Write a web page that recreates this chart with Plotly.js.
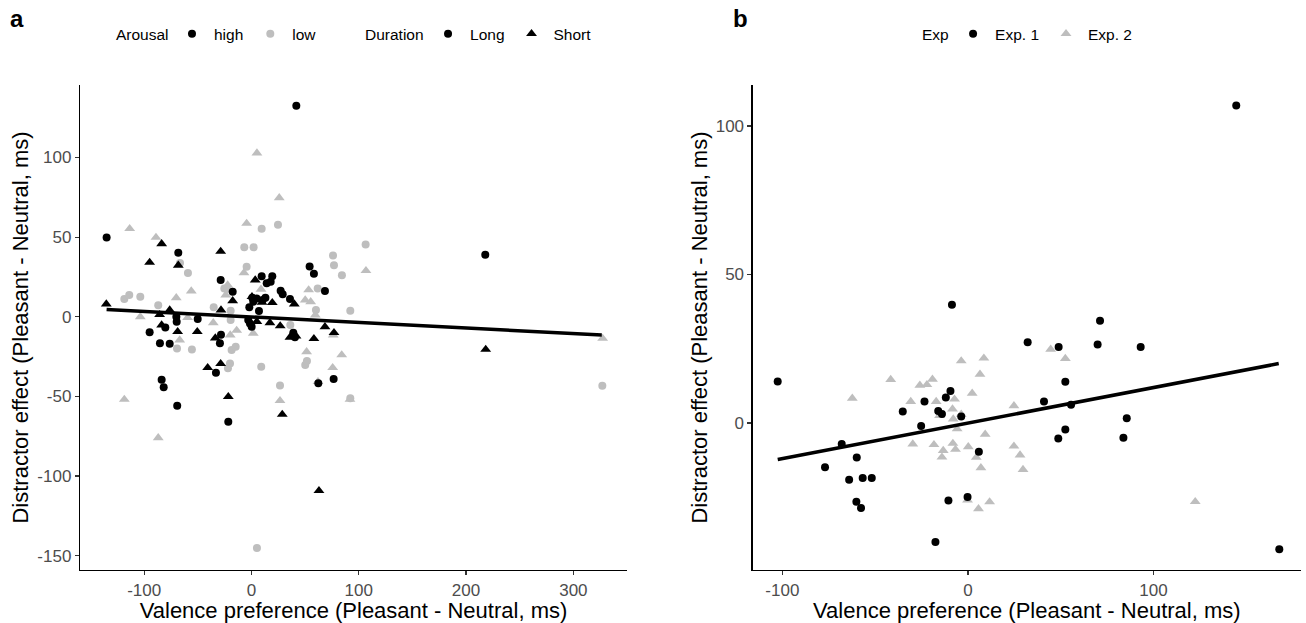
<!DOCTYPE html>
<html>
<head>
<meta charset="utf-8">
<script src="https://cdn.plot.ly/plotly-3.0.1.min.js"></script>
<style>html,body{margin:0;padding:0;background:#fff;}#chart{width:1306px;height:623px;}</style>
</head>
<body>
<div id="chart"></div>
<script>
// ---------- Panel a data ----------
const highLongX = [41.8,-135,-68.2,-28.7,-17.5,9.5,19.4,14.2,17.9,54.2,58.2,68.5,27.2,29.1,35.9,0.8,7,-70,-69.7,-50.1,-94.9,-85.3,-76.2,-80.3,-28.4,-29.4,-33.1,-83.7,-81.8,-69.2,-21.6,-1.4,0.2,1.7,4.8,10.4,39,40.5,62.3,76.6,217.9,-2,-3,13];
const highLongY = [132.5,49.8,40.2,23.0,15.7,25.5,25.5,21.0,22.0,31.6,27.0,16.1,16.3,14.2,11.1,11.9,3.6,0,-3.1,-1.4,-9.8,-16.7,-16.9,-6.7,-11.3,-16.7,-35.1,-39.5,-44.3,-55.9,-65.9,-4.2,-6.3,9.4,11.5,10.5,-10,-12.9,-41.8,-39.1,38.9,6,-2,12];

const highShortX = [-135.3,-83.7,-94.9,-68.2,-28.7,3.5,-17.5,19.4,39.9,-76.2,-85.6,-28.4,9.8,0.5,-83.7,-68.8,-50.5,-33.7,-40.8,-28.7,-21.6,17.2,26.8,35.9,41.5,68.5,76.9,58.2,28.7,62.9,218.3,5];
const highShortY = [8.0,45.8,34.1,32.3,41.0,23.0,10.0,8.8,8.0,4.2,1.3,4.2,9.0,12.6,-5.2,-9.4,-9.4,-13.4,-32,-29.5,-50.2,-3.8,-5.8,-12.9,-12.1,-6.3,-10,-13.8,-61.3,-109.2,-20.5,-3];

const lowLongX = [9.5,24.7,-6.7,2,-4.5,76,76.9,84.3,-59.2,-66.6,-118.5,-113.9,-103.6,-22.8,61.7,92.1,-35.2,-19.4,-86.9,60.1,-19.4,106.4,327,92.1,-69.4,-55.5,-18.5,-14.7,-20,-21.9,9.1,50.1,51.7,26.6,36.2,-25.3,5.1];
const lowLongY = [55.3,57.8,43.6,43.6,31.4,38.5,32.3,26.0,27.4,33.7,11.1,13.6,12.6,17.4,17.8,3.8,5.9,3.8,7.2,4.2,-2.1,45.4,-43.3,-51.2,-19.9,-20.5,-20.9,-18.8,-29.3,-32.4,-31.4,-30.3,-27.8,-43.1,-5.2,17.8,-145.2];

const lowShortX = [5.1,25.9,-113.5,-89,-4.5,-7,-56.1,-70.1,-22.2,-24,53.3,50.1,55.2,-103.6,-59.5,-35.6,8.9,-118.5,-86.9,-66.9,-13.8,-19.8,1.7,26.6,51.4,84.1,75.7,76.2,62,91.8,59.5,106.7,327.3];
const lowShortY = [102.8,74.7,55.3,49.8,58.6,27.6,16.1,11.9,19.9,13.6,16.8,10.5,9.4,0,-0.6,-3.8,17.2,-51.9,-76,-14.6,-8.6,-11.5,-10.4,-52.7,-22,-24,-32,-11.5,-40.8,-51.9,1.1,28.9,-13.6];

const fitAX = [-135, 326.5];
const fitAY = [4.6, -11.5];

// ---------- Panel b data ----------
const exp1X = [-102.5,-8.6,32.2,-68,-77,-59.9,-64,-56.7,-51.8,-60.1,-57.6,-35.1,-23.4,-25.2,-11.9,-9.4,-16,-14,-3.6,5.9,-10.5,-0.2,-17.5,144.6,48.9,71.2,69.9,93.1,52.5,41,55.6,85.6,52.5,48.7,83.8,167.8];
const exp1Y = [14.0,39.8,27.2,-7.1,-14.9,-11.6,-19.1,-18.5,-18.5,-26.5,-28.6,3.9,7.2,-1.0,8.6,10.8,4.0,3.0,2.2,-9.7,-26.1,-24.9,-40.1,106.9,25.6,34.4,26.4,25.6,13.9,7.2,6.1,1.6,-2.2,-5.2,-5.0,-42.5];

const exp2X = [-62.3,-41.6,-30.8,-25.9,-22.1,-19.1,-17.1,-15.3,-8.3,-7.2,-7.9,-5.8,-3.6,-3.6,8.6,6.5,2.3,9.3,0.2,4.5,7.0,-29.7,-18.3,-13.3,-14,-8.1,-6.7,-0.2,5.7,11.7,24.8,24.8,28.1,29.7,44.6,52.5,122.5];
const exp2Y = [8.3,14.6,7.2,12.7,12.9,14.7,7.2,2.5,4.7,8.0,1.3,-2.0,2.9,20.9,21.8,16.4,10.0,-3.8,-8.0,-11.6,-15.1,-7.1,-7.3,-9.3,-11.5,-6.9,-8.9,-26.0,-28.9,-26.6,5.8,-7.8,-10.8,-15.7,24.8,21.7,-26.5];

const fitBX = [-102.5, 167.5];
const fitBY = [-12.3, 20.0];

// ---------- Tick labels ----------
const aXTicks = [-100, 0, 100, 200, 300];
const aXTickText = ['-100', '0', '100', '200', '300'];
const aYTicks = [-150, -100, -50, 0, 50, 100];
const aYTickText = ['-150', '-100', '-50', '0', '50', '100'];
const bXTicks = [-100, 0, 100];
const bXTickText = ['-100', '0', '100'];
const bYTicks = [0, 50, 100];
const bYTickText = ['0', '50', '100'];

const xTitle = 'Valence preference (Pleasant - Neutral, ms)';
const yTitle = 'Distractor effect (Pleasant - Neutral, ms)';
const legendTitles = ['Arousal', 'Duration', 'Exp'];

const BLACK = '#000000';
const GREY = '#BEBEBE';
const FONT = 'Liberation Sans, Arial, sans-serif';

function pts(x, y, color, symbol, size, xa, ya) {
  return {x: x, y: y, type: 'scatter', mode: 'markers', xaxis: xa, yaxis: ya,
    marker: {color: color, symbol: symbol, size: size, line: {width: 0}},
    showlegend: false, hoverinfo: 'x+y'};
}
function legendOnly(name, color, symbol, size, legend) {
  return {x: [null], y: [null], type: 'scatter', mode: 'markers', name: name,
    marker: {color: color, symbol: symbol, size: size}, legend: legend, showlegend: true,
    xaxis: 'x', yaxis: 'y'};
}

const traces = [
  pts(lowLongX, lowLongY, GREY, 'circle', 8, 'x', 'y'),
  pts(lowShortX, lowShortY, GREY, 'triangle-up', 9.5, 'x', 'y'),
  pts(highLongX, highLongY, BLACK, 'circle', 8, 'x', 'y'),
  pts(highShortX, highShortY, BLACK, 'triangle-up', 9.5, 'x', 'y'),
  {x: fitAX, y: fitAY, type: 'scatter', mode: 'lines', xaxis: 'x', yaxis: 'y',
    line: {color: BLACK, width: 3.5}, showlegend: false},
  legendOnly('high', BLACK, 'circle', 8, 'legend'),
  legendOnly('low', GREY, 'circle', 8, 'legend'),
  legendOnly('Long', BLACK, 'circle', 8, 'legend2'),
  legendOnly('Short', BLACK, 'triangle-up', 9.5, 'legend2'),
  {x: exp2X, y: exp2Y, type: 'scatter', mode: 'markers', xaxis: 'x2', yaxis: 'y2', name: 'Exp. 2',
    marker: {color: GREY, symbol: 'triangle-up', size: 9.5, line: {width: 0}}, legend: 'legend3', legendrank: 2},
  {x: exp1X, y: exp1Y, type: 'scatter', mode: 'markers', xaxis: 'x2', yaxis: 'y2', name: 'Exp. 1',
    marker: {color: BLACK, symbol: 'circle', size: 8, line: {width: 0}}, legend: 'legend3', legendrank: 1},
  {x: fitBX, y: fitBY, type: 'scatter', mode: 'lines', xaxis: 'x2', yaxis: 'y2',
    line: {color: BLACK, width: 3.5}, showlegend: false}
];

function axisCommon() {
  return {showline: true, linecolor: BLACK, linewidth: 1.2, mirror: false,
    ticks: 'outside', ticklen: 4, tickwidth: 1.2, tickcolor: '#333333',
    showgrid: false, zeroline: false, automargin: false,
    tickfont: {family: FONT, size: 17, color: '#4D4D4D'}, tickmode: 'array'};
}

const LEG_Y = 1.105;
const legendBase = {orientation: 'h', xanchor: 'left', yanchor: 'middle', y: LEG_Y,
  bgcolor: 'rgba(0,0,0,0)', borderwidth: 0, traceorder: 'normal', itemwidth: 34,
  font: {family: FONT, size: 15.5, color: '#000000'},
  itemclick: false, itemdoubleclick: false};

function legTitle(text, x) {
  return {text: text, xref: 'paper', yref: 'paper', x: x, y: LEG_Y, xanchor: 'left', yanchor: 'middle',
    showarrow: false, font: {family: FONT, size: 15.5, color: BLACK}};
}

const layout = {
  width: 1306, height: 623,
  margin: {l: 80, r: 5, t: 85, b: 53},
  paper_bgcolor: '#ffffff', plot_bgcolor: '#ffffff',
  font: {family: FONT, color: BLACK},
  showlegend: true,
  xaxis: Object.assign(axisCommon(), {domain: [0, 0.448], range: [-159.8, 350],
    tickvals: aXTicks, ticktext: aXTickText, anchor: 'y',
    title: {text: xTitle, font: {family: FONT, size: 22, color: BLACK}, standoff: 3}}),
  yaxis: Object.assign(axisCommon(), {domain: [0, 1], range: [-159, 145.5],
    tickvals: aYTicks, ticktext: aYTickText, anchor: 'x',
    title: {text: yTitle, font: {family: FONT, size: 22, color: BLACK}, standoff: 2}}),
  xaxis2: Object.assign(axisCommon(), {domain: [0.5509, 1], range: [-116, 179.5],
    tickvals: bXTicks, ticktext: bXTickText, anchor: 'y2',
    title: {text: xTitle, font: {family: FONT, size: 22, color: BLACK}, standoff: 3}}),
  yaxis2: Object.assign(axisCommon(), {domain: [0, 1], range: [-49.5, 113.8],
    tickvals: bYTicks, ticktext: bYTickText, anchor: 'x2',
    title: {text: yTitle, font: {family: FONT, size: 22, color: BLACK}, standoff: 2}}),
  legend: Object.assign({}, legendBase, {x: 0.0737}),
  legend2: Object.assign({}, legendBase, {x: 0.2834}),
  legend3: Object.assign({}, legendBase, {x: 0.7134}),
  annotations: [
    {text: '<b>a</b>', xref: 'paper', yref: 'paper', x: -0.0590, y: 1.138, xanchor: 'left', yanchor: 'middle',
      showarrow: false, font: {family: FONT, size: 24, color: BLACK}},
    {text: '<b>b</b>', xref: 'paper', yref: 'paper', x: 0.5335, y: 1.138, xanchor: 'left', yanchor: 'middle',
      showarrow: false, font: {family: FONT, size: 24, color: BLACK}},
    legTitle(legendTitles[0], 0.0281),
    legTitle(legendTitles[1], 0.2318),
    legTitle(legendTitles[2], 0.688)
  ]
};

Plotly.newPlot('chart', traces, layout, {displayModeBar: false, staticPlot: true});
</script>
</body>
</html>
